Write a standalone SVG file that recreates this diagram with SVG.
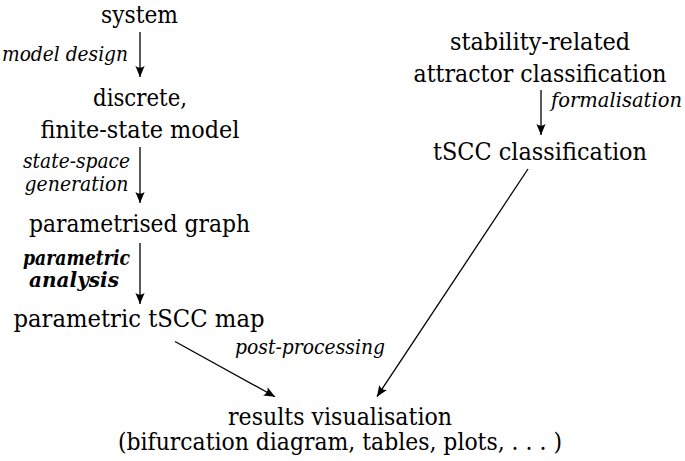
<svg xmlns="http://www.w3.org/2000/svg" width="685" height="461" viewBox="0 0 685 461">
<style>
text{font-family:"DejaVu Serif","Liberation Serif",serif;fill:#000}
.t{font-size:24px;text-anchor:middle}
.l{font-size:20px;font-style:italic}
.b{font-weight:bold}
.e{stroke:#000;stroke-width:1.3;fill:none;marker-end:url(#ah)}
</style>
<defs>
<marker id="ah" markerUnits="userSpaceOnUse" markerWidth="14" markerHeight="12" viewBox="-12 -6 14 12" refX="0" refY="0" orient="auto">
<path d="M0,0 L-11,-4.6 Q-7.5,0 -11,4.6 Z" fill="#000"/>
</marker>
</defs>
<g id="system"><text class="t" x="139.5" y="23" textLength="77" lengthAdjust="spacingAndGlyphs">system</text></g>
<g id="model"><text class="t" x="140" y="105.7" textLength="94" lengthAdjust="spacingAndGlyphs">discrete,</text><text class="t" x="140" y="138" textLength="199" lengthAdjust="spacingAndGlyphs">finite-state model</text></g>
<g id="graph"><text class="t" x="139.5" y="232" textLength="221" lengthAdjust="spacingAndGlyphs">parametrised graph</text></g>
<g id="map"><text class="t" x="139" y="327" textLength="251" lengthAdjust="spacingAndGlyphs">parametric tSCC map</text></g>
<g id="attractor"><text class="t" x="540" y="50" textLength="180" lengthAdjust="spacingAndGlyphs">stability-related</text><text class="t" x="540" y="82" textLength="253" lengthAdjust="spacingAndGlyphs">attractor classification</text></g>
<g id="tscc"><text class="t" x="540" y="160" textLength="214" lengthAdjust="spacingAndGlyphs">tSCC classification</text></g>
<g id="results"><text class="t" x="340" y="425" textLength="224" lengthAdjust="spacingAndGlyphs">results visualisation</text><text class="t" x="340" y="449.5" textLength="444" lengthAdjust="spacingAndGlyphs">(bifurcation diagram, tables, plots, . . . )</text></g>
<g id="connectors">
<line class="e" x1="140" y1="32" x2="140" y2="77"/>
<line class="e" x1="140" y1="147" x2="140" y2="203"/>
<line class="e" x1="140" y1="243" x2="140" y2="304"/>
<line class="e" x1="541" y1="90" x2="541" y2="135"/>
<line class="e" x1="175" y1="341.5" x2="275" y2="396.7"/>
<line class="e" x1="528" y1="169" x2="377" y2="396.7"/>
<text class="l" x="128" y="61" text-anchor="end" textLength="126" lengthAdjust="spacingAndGlyphs">model design</text>
<text class="l" x="76.5" y="168" text-anchor="middle" textLength="107" lengthAdjust="spacingAndGlyphs">state-space</text>
<text class="l" x="76.5" y="190.5" text-anchor="middle" textLength="104" lengthAdjust="spacingAndGlyphs">generation</text>
<text class="l b" x="76.5" y="265" text-anchor="middle" textLength="107" lengthAdjust="spacingAndGlyphs">parametric</text>
<text class="l b" x="74" y="287" text-anchor="middle" textLength="90" lengthAdjust="spacingAndGlyphs">analysis</text>
<text class="l" x="551" y="107" textLength="131" lengthAdjust="spacingAndGlyphs">formalisation</text>
<text class="l" x="235" y="353.5" textLength="150" lengthAdjust="spacingAndGlyphs">post-processing</text>
</g>
</svg>
